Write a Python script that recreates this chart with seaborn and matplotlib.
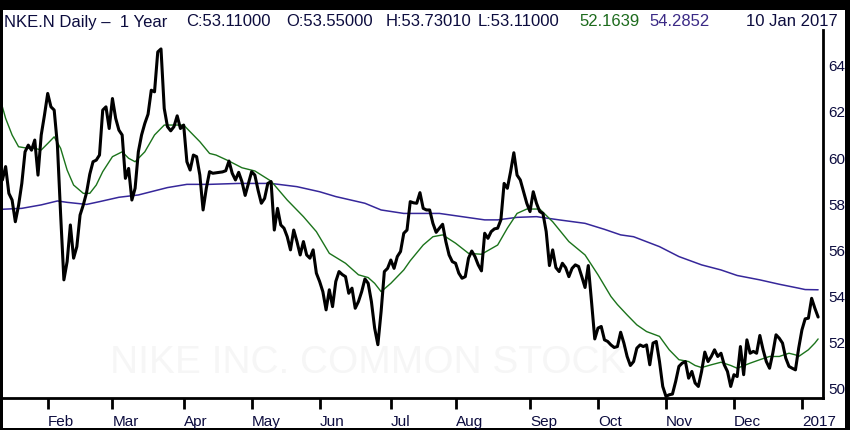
import numpy as np
import pandas as pd
import matplotlib
matplotlib.use("Agg")
import matplotlib.pyplot as plt
from matplotlib.patches import Rectangle
import seaborn as sns

# NKE.N daily closes, one value per trading day (11 Jan 2016 - 10 Jan 2017)
price = [
    59.05, 59.63, 58.47, 58.18, 57.24, 57.95, 58.90, 60.27, 60.56, 60.34,
    60.78, 59.26, 61.00, 61.86, 62.80, 62.22, 62.08, 60.56, 57.53, 54.72,
    55.51, 57.10, 55.66, 56.16, 57.53, 57.97, 58.50, 59.30, 59.84, 59.91,
    60.13, 62.08, 62.22, 61.28, 62.58, 61.72, 61.21, 61.00, 59.12, 59.55,
    58.18, 58.69, 60.27, 61.00, 61.50, 61.90, 62.94, 62.87, 64.60, 64.73,
    62.15, 61.36, 61.18, 61.36, 61.83, 61.28, 61.43, 59.84, 59.48, 60.13,
    60.06, 59.26, 57.75, 58.69, 59.41, 59.34, 59.36, 59.38, 59.40, 59.45,
    59.87, 59.34, 59.05, 59.38, 58.98, 58.38, 58.90, 59.41, 59.26, 58.60,
    58.04, 58.25, 58.90, 58.98, 56.88, 57.82, 57.10, 56.96, 56.59, 56.02,
    56.88, 56.38, 55.80, 56.38, 55.80, 55.66, 56.02, 55.01, 54.65, 54.21,
    53.42, 54.29, 53.56, 54.65, 55.08, 54.95, 54.86, 54.14, 54.36, 53.49,
    53.78, 54.21, 54.76, 54.57, 53.78, 52.63, 51.91, 53.35, 55.08, 55.22,
    55.58, 55.22, 55.73, 55.95, 56.74, 56.88, 58.11, 58.06, 58.04, 58.50,
    57.82, 57.75, 57.75, 57.17, 56.78, 56.96, 57.13, 56.38, 55.80, 55.51,
    55.44, 55.01, 54.79, 54.86, 55.66, 55.97, 55.73, 55.37, 55.11, 56.74,
    56.52, 56.81, 56.93, 56.96, 57.32, 58.90, 58.69, 59.41, 60.23, 59.26,
    59.05, 58.54, 58.04, 57.68, 58.54, 58.04, 57.68, 57.60, 56.81, 55.34,
    56.02, 55.25, 55.08, 55.44, 55.25, 54.86, 55.22, 55.37, 55.30, 54.86,
    54.39, 55.34, 53.78, 52.16, 52.63, 52.70, 52.12, 52.05, 51.90, 51.79,
    51.83, 52.45, 51.98, 51.40, 51.01, 51.18, 51.76, 51.90, 51.83, 51.90,
    51.04, 51.98, 52.05, 51.18, 50.10, 49.67, 49.74, 49.77, 50.32, 50.97,
    51.11, 51.18, 50.46, 50.75, 50.25, 50.10, 50.75, 51.59, 51.18, 51.40,
    51.69, 51.40, 51.54, 51.04, 50.75, 50.10, 50.61, 50.53, 51.83, 50.61,
    52.12, 51.54, 51.62, 51.54, 52.31, 51.69, 51.18, 50.89, 51.54, 52.34,
    52.19, 51.98, 51.33, 50.97, 50.89, 50.82, 51.76, 52.55, 53.03, 53.06,
    53.92, 53.49, 53.11,
]

# market holidays inside the window
holidays = ["2016-01-18", "2016-02-15", "2016-03-25", "2016-05-30", "2016-07-04",
            "2016-09-05", "2016-11-24", "2016-12-26", "2017-01-02"]

# short moving average (green), sampled at trading-day numbers
green_day = [0, 1, 3, 5, 8, 10, 12, 14, 16, 18, 20, 22, 25, 27, 29, 31, 34, 37, 39, 41,
             44, 47, 50, 53, 56, 58, 61, 64, 66, 70, 74, 78, 83, 88, 93, 97, 101, 106,
             110, 113, 115, 117, 120, 124, 126, 130, 133, 136, 140, 144, 148, 153, 156,
             159, 162, 166, 170, 175, 180, 184, 188, 190, 193, 196, 199, 203, 206, 209,
             212, 214, 216, 219, 222, 225, 227, 231, 234, 237, 240, 243, 245, 246, 249,
             251, 252]
green_val = [62.22, 61.72, 61.00, 60.49, 60.42, 60.42, 60.35, 60.63, 60.92, 60.42, 59.48,
             58.83, 58.47, 58.47, 58.83, 59.41, 60.06, 60.27, 59.99, 59.84, 60.27, 61.00,
             61.43, 61.43, 61.43, 61.14, 60.71, 60.20, 60.13, 59.87, 59.58, 59.44, 59.00,
             58.18, 57.46, 56.81, 55.87, 55.44, 54.94, 54.82, 54.57, 54.21, 54.57, 55.15,
             55.55, 56.23, 56.59, 56.67, 56.31, 55.87, 55.83, 56.23, 56.96, 57.60, 57.79,
             57.79, 57.24, 56.38, 55.80, 54.94, 54.00, 53.65, 53.20, 52.77, 52.48, 52.27,
             51.69, 51.26, 51.18, 51.01, 50.92, 51.04, 51.15, 51.01, 50.89, 51.11, 51.26,
             51.40, 51.40, 51.54, 51.47, 51.40, 51.69, 51.98, 52.16]

# long moving average (blue)
blue_day = [0, 6, 12, 17, 20, 26, 30, 36, 42, 51, 57, 64, 73, 83, 91, 98, 103, 112, 117,
            124, 135, 142, 149, 153, 159, 165, 172, 180, 186, 191, 195, 203, 209, 216, 222,
            227, 234, 240, 246, 248, 252]
blue_val = [57.78, 57.82, 57.97, 58.14, 58.08, 57.99, 58.11, 58.30, 58.40, 58.72, 58.86,
            58.86, 58.90, 58.90, 58.76, 58.54, 58.33, 58.04, 57.75, 57.60, 57.60, 57.46,
            57.32, 57.32, 57.43, 57.46, 57.32, 57.17, 56.91, 56.67, 56.59, 56.16, 55.73,
            55.37, 55.15, 54.91, 54.72, 54.53, 54.36, 54.30, 54.29]

y_ticks = [50, 52, 54, 56, 58, 60, 62, 64]

header_parts = [
    ("NKE.N Daily \u2013  1 Year", 4, "#0c0c3e"),
    ("C:53.11000", 186, "#0c0c3e"),
    ("O:53.55000", 286, "#0c0c3e"),
    ("H:53.73010", 386, "#0c0c3e"),
    ("L:53.11000", 478, "#0c0c3e"),
    ("52.1639", 579, "#1d6b1d"),
    ("54.2852", 649, "#3b2a86"),
]
date_label = "10 Jan 2017"
watermark = "NIKE INC. COMMON STOCK"

W, H = 850, 430
navy = "#0c0c3e"
font = "Liberation Sans"

sns.set_style("white")
plt.rcParams["font.family"] = [font, "DejaVu Sans"]

days = pd.bdate_range("2016-01-11", "2017-01-10", freq="C", holidays=holidays)
n = len(days)
df = pd.DataFrame({"day": np.arange(n), "close": price})
green = pd.DataFrame({"day": green_day, "ma": green_val})
blue = pd.DataFrame({"day": blue_day, "ma": blue_val})

fig = plt.figure(figsize=(W / 100, H / 100), dpi=100)
fig.patch.set_facecolor("black")
fig.add_artist(Rectangle((3 / W, 2 / H), 842 / W, 418 / H, transform=fig.transFigure,
                         facecolor="white", edgecolor="none", zorder=-5))

ax = fig.add_axes([3 / W, 32 / H, 820 / W, 368 / H])
ax.set_facecolor("none")

ax.text(0.13, 0.068, watermark, transform=ax.transAxes, fontsize=28,
        color="#f6f6f6", ha="left", va="baseline", zorder=0)

sns.lineplot(data=blue, x="day", y="ma", ax=ax, color="#36279a", linewidth=1.1,
             sort=False, zorder=2)
sns.lineplot(data=green, x="day", y="ma", ax=ax, color="#1b731b", linewidth=1.0,
             sort=False, zorder=3)
sns.lineplot(data=df, x="day", y="close", ax=ax, color="black", linewidth=2.2,
             sort=False, zorder=4)

ax.set_xlim(0.19, 0.19 + 820 / 3.237)
ax.set_ylim(49.6, 65.55)
ax.set_xlabel("")
ax.set_ylabel("")

# month ticks at the first trading day of each month
months = days.month
tick_pos = [i for i in range(1, n) if months[i] != months[i - 1]]
tick_lab = [days[i].strftime("%Y") if days[i].month == 1 else days[i].strftime("%b")
            for i in tick_pos]
ax.set_xticks(tick_pos)
ax.set_xticklabels(tick_lab)
for lbl in ax.get_xticklabels():
    lbl.set_horizontalalignment("left")
ax.tick_params(axis="x", direction="out", length=8, width=2, color="black", pad=4,
               labelsize=11, labelcolor=navy, bottom=True)

ax.yaxis.tick_right()
ax.set_yticks(y_ticks)
ax.tick_params(axis="y", length=0, pad=4, labelsize=11, labelcolor=navy,
               right=True, left=False)

for side in ["left", "top"]:
    ax.spines[side].set_visible(False)
for side in ["right", "bottom"]:
    ax.spines[side].set_visible(True)
    ax.spines[side].set_linewidth(2)
    ax.spines[side].set_color("black")

base = (H - 26.5) / H
for txt, px, col in header_parts:
    fig.text(px / W, base, txt, fontsize=12, color=col, ha="left", va="baseline")
fig.text(838 / W, base, date_label, fontsize=12, color=navy, ha="right", va="baseline")

fig.savefig("out.png", dpi=100, facecolor=fig.get_facecolor())
